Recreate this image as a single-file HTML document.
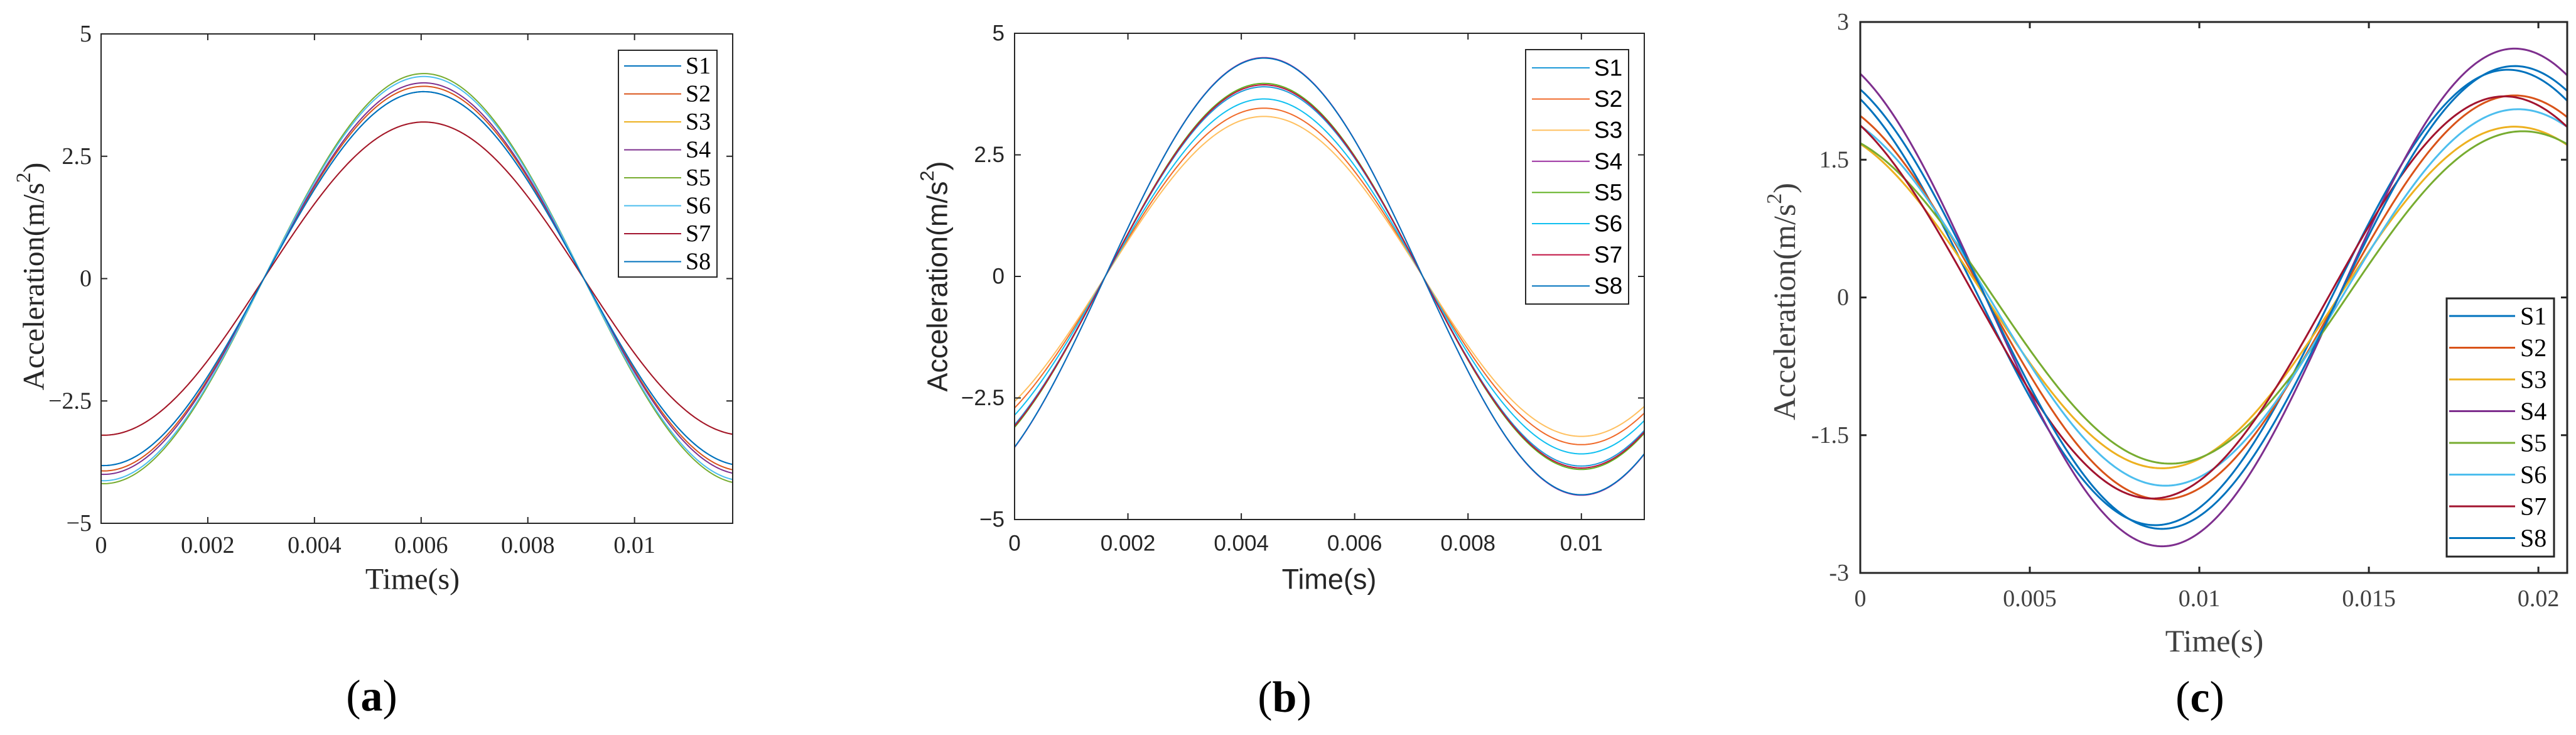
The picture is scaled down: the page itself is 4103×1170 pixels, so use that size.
<!DOCTYPE html>
<html><head><meta charset="utf-8"><style>
html,body{margin:0;padding:0;background:#fff;}
svg{display:block;}
</style></head><body>
<svg id="fig" width="4103" height="1170" viewBox="0 0 4103 1170" xmlns="http://www.w3.org/2000/svg"></svg>
<script>
// ---- data ----
const seriesNames = ["S1","S2","S3","S4","S5","S6","S7","S8"];
const colorsA = ["#0072BD","#D95319","#EDB120","#7E2F8E","#77AC30","#4DBEEE","#A2142F","#0072BD"];
const colorsB = ["#1f9ad8","#f06a2a","#ffc060","#9b30a0","#5fb020","#10c0f0","#c01040","#0072BD"];
// panel a: amplitude (m/s^2), peak time (s), period (s)
const aAmp = [3.82,3.93,3.2,4.0,4.19,4.13,3.2,3.82];
const aPeakT = [0.00605,0.00605,0.00605,0.00605,0.00605,0.00605,0.00605,0.00605];
const aPeriod = [0.012,0.012,0.012,0.012,0.012,0.012,0.012,0.012];
// panel b
const bAmp = [3.9,3.46,3.29,4.5,3.97,3.65,3.94,4.49];
const bPeakT = [0.0044,0.0044,0.0044,0.0044,0.0044,0.0044,0.0044,0.0044];
const bPeriod = [0.0112,0.0112,0.0112,0.0112,0.0112,0.0112,0.0112,0.0112];
// panel c: amplitude, trough time, period
const cAmp = [2.48,2.2,1.86,2.71,1.81,2.05,2.19,2.52];
const cTroughT = [0.0087,0.0089,0.0089,0.0089,0.00914,0.009,0.0086,0.0089];
const cPeriod = [0.0208,0.0208,0.0208,0.0208,0.0208,0.0208,0.0208,0.0208];
// ticks
const abXTicks = [0,0.002,0.004,0.006,0.008,0.01];
const abXTickLabels = ["0","0.002","0.004","0.006","0.008","0.01"];
const abYTicks = [-5,-2.5,0,2.5,5];
const abYTickLabels = ["\u22125","\u22122.5","0","2.5","5"];
const cXTicks = [0,0.005,0.01,0.015,0.02];
const cXTickLabels = ["0","0.005","0.01","0.015","0.02"];
const cYTicks = [-3,-1.5,0,1.5,3];
const cYTickLabels = ["-3","-1.5","0","1.5","3"];

const NS = "http://www.w3.org/2000/svg";
const svg = document.getElementById("fig");
function mk(tag, attrs, parent){
  const e = document.createElementNS(NS, tag);
  for (const k in attrs) e.setAttribute(k, attrs[k]);
  (parent||svg).appendChild(e);
  return e;
}

function panel(cfg){
  const g = mk("g", {});
  
  
  const L=cfg.L,R=cfg.R,T=cfg.T,B=cfg.B;
  const xs = v => L + (v - cfg.xmin)/(cfg.xmax-cfg.xmin)*(R-L);
  const ys = v => B - (v - cfg.ymin)/(cfg.ymax-cfg.ymin)*(B-T);
  // series
  const sg = mk("g", {}, g);
  
  
  for (let i=0;i<seriesNames.length;i++){
    let d="";
    const N=300;
    for (let k=0;k<=N;k++){
      const t = cfg.xmin + (cfg.xmax-cfg.xmin)*k/N;
      const v = cfg.val(i,t);
      d += (k?"L":"M") + xs(t).toFixed(2) + " " + ys(v).toFixed(2);
    }
    const p = mk("path", {d:d, fill:"none", stroke:cfg.colors[i], "stroke-width":cfg.lw}, sg);
    
    
  }
  // axes box
  const box = mk("rect", {x:L,y:T,width:R-L,height:B-T,fill:"none",stroke:"#262626","stroke-width":cfg.aw}, g);
  
  
  const tl=10;
  cfg.xTicks.forEach((v,j)=>{
    const x=xs(v);
    mk("line",{x1:x,y1:B,x2:x,y2:B-tl,stroke:"#262626","stroke-width":cfg.aw},g);
    mk("line",{x1:x,y1:T,x2:x,y2:T+tl,stroke:"#262626","stroke-width":cfg.aw},g);
    const t = mk("text",{x:x,y:cfg.xlabY,"text-anchor":"middle","dominant-baseline":"central","font-family":cfg.font,"font-size":cfg.tfs,fill:cfg.tc},g);
    t.textContent = cfg.xLabels[j];
    
    
  });
  cfg.yTicks.forEach((v,j)=>{
    const y=ys(v);
    mk("line",{x1:L,y1:y,x2:L+tl,y2:y,stroke:"#262626","stroke-width":cfg.aw},g);
    mk("line",{x1:R,y1:y,x2:R-tl,y2:y,stroke:"#262626","stroke-width":cfg.aw},g);
    const t = mk("text",{x:cfg.ylabX,y:y,"text-anchor":"end","dominant-baseline":"central","font-family":cfg.font,"font-size":cfg.tfs,fill:cfg.tc},g);
    t.textContent = cfg.yLabels[j];
    
    
  });
  // axis titles
  const xt = mk("text",{x:cfg.xtX,y:cfg.xtY,"text-anchor":"middle","dominant-baseline":"central","font-family":cfg.font,"font-size":cfg.afs,fill:cfg.tc},g);
  xt.textContent="Time(s)";
  
  
  const yt = mk("text",{x:0,y:0,"text-anchor":"middle","dominant-baseline":"central","font-family":cfg.font,"font-size":cfg.afs,fill:cfg.tc,transform:`translate(${cfg.ytX},${cfg.ytY}) rotate(-90)`},g);
  yt.innerHTML = 'Acceleration(m/s<tspan dy="-16" font-size="'+(cfg.afs*0.68)+'">2</tspan><tspan dy="16">)</tspan>';
  
  
  // legend
  const lg = mk("g",{},g);
  
  
  mk("rect",{x:cfg.lgX,y:cfg.lgY,width:cfg.lgW,height:cfg.lgH,fill:"#fff",stroke:"#262626","stroke-width":cfg.aw},lg);
  for (let i=0;i<seriesNames.length;i++){
    const y = cfg.lg1 + i*cfg.lgS;
    const ent = mk("g",{},lg);
    
    
    mk("line",{x1:cfg.lgL1,y1:y,x2:cfg.lgL2,y2:y,stroke:cfg.colors[i],"stroke-width":cfg.lw},ent);
    const t = mk("text",{x:cfg.lgTX,y:y,"dominant-baseline":"central","font-family":cfg.font,"font-size":cfg.lfs,fill:"#000"},ent);
    t.textContent = seriesNames[i];
  }
  // panel letter
  const pl = mk("text",{x:cfg.plX,y:cfg.plY,"text-anchor":"middle","dominant-baseline":"central","font-family":"Liberation Serif, serif","font-size":70,fill:"#000"},g);
  pl.innerHTML = '(<tspan font-weight="bold">'+cfg.letter+'</tspan>)';
  
  
}

const serif = "Liberation Serif, serif";
const sans = "Liberation Sans, Arial, sans-serif";

panel({id:"panel-a", letter:"a", L:161,R:1167,T:54,B:833, xmin:0,xmax:0.01184, ymin:-5,ymax:5,
  val:(i,t)=>aAmp[i]*Math.cos(2*Math.PI*(t-aPeakT[i])/aPeriod[i]),
  colors:colorsA, lw:2, aw:2, font:serif, tfs:38, afs:48, tc:"#262626",
  xTicks:abXTicks, xLabels:abXTickLabels, yTicks:abYTicks, yLabels:abYTickLabels,
  xlabY:868, ylabX:146, xtX:657, xtY:922, ytX:54, ytY:440,
  lgX:985,lgY:80,lgW:157,lgH:361, lg1:105, lgS:44.5, lgL1:994, lgL2:1085, lgTX:1092, lfs:38,
  plX:592, plY:1108});

panel({id:"panel-b", letter:"b", L:1616,R:2619,T:53,B:827, xmin:0,xmax:0.01111, ymin:-5,ymax:5,
  val:(i,t)=>bAmp[i]*Math.cos(2*Math.PI*(t-bPeakT[i])/bPeriod[i]),
  colors:colorsB, lw:2, aw:2, font:sans, tfs:35, afs:45, tc:"#262626",
  xTicks:abXTicks, xLabels:abXTickLabels, yTicks:abYTicks, yLabels:abYTickLabels,
  xlabY:865, ylabX:1600, xtX:2117, xtY:922, ytX:1493, ytY:440,
  lgX:2430,lgY:79,lgW:164,lgH:405, lg1:108, lgS:49.6, lgL1:2440, lgL2:2532, lgTX:2539, lfs:37,
  plX:2046, plY:1110});

panel({id:"panel-c", letter:"c", L:2963,R:4089,T:35,B:912, xmin:0,xmax:0.02085, ymin:-3,ymax:3,
  val:(i,t)=>-cAmp[i]*Math.cos(2*Math.PI*(t-cTroughT[i])/cPeriod[i]),
  colors:colorsA, lw:3, aw:3, font:serif, tfs:38, afs:50, tc:"#404040",
  xTicks:cXTicks, xLabels:cXTickLabels, yTicks:cYTicks, yLabels:cYTickLabels,
  xlabY:953, ylabX:2945, xtX:3527, xtY:1020, ytX:2842, ytY:480,
  lgX:3897,lgY:475,lgW:171,lgH:411, lg1:503, lgS:50.5, lgL1:3901, lgL2:4006, lgTX:4014, lfs:40,
  plX:3504, plY:1110});
</script>
</body></html>
